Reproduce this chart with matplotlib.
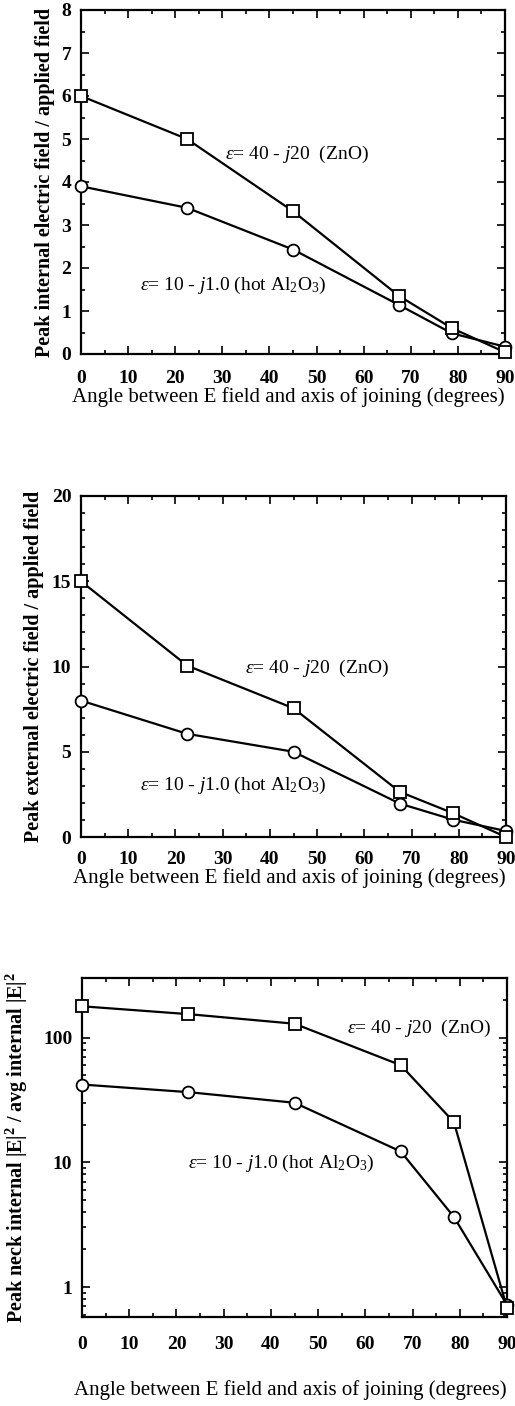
import matplotlib
matplotlib.use("Agg")
import matplotlib.pyplot as plt
from matplotlib.ticker import MultipleLocator, LogLocator, NullFormatter

plt.rcParams['font.family'] = ['Liberation Serif', 'DejaVu Serif']
plt.rcParams['mathtext.fontset'] = 'custom'
plt.rcParams['mathtext.rm'] = 'Liberation Serif'
plt.rcParams['mathtext.it'] = 'Liberation Serif:italic'
plt.rcParams['mathtext.bf'] = 'Liberation Serif:bold'

# ---- data ----
angles = [0, 22.5, 45, 67.5, 78.75, 90]

int_zno = [6.0, 5.0, 3.32, 1.35, 0.6, 0.04]
int_al2o3 = [3.9, 3.4, 2.43, 1.14, 0.48, 0.17]

ext_zno = [15.0, 10.05, 7.55, 2.65, 1.4, 0.0]
ext_al2o3 = [8.0, 6.05, 5.0, 1.96, 1.02, 0.35]

neck_zno = [178, 154, 129, 60, 21, 0.68]
neck_al2o3 = [42, 36.5, 30, 12.2, 3.65, 0.72]

xticks = [0, 10, 20, 30, 40, 50, 60, 70, 80, 90]
label_zno = r"$\mathit{\varepsilon}$= 40 - $\mathit{j}$20  (ZnO)"
label_al = r"$\mathit{\varepsilon}$= 10 - $\mathit{j}$1.0 (hot Al$_2$O$_3$)"
xlabel = "Angle between E field and axis of joining (degrees)"
ylabels = ["Peak internal electric field / applied field",
           "Peak external electric field / applied field",
           r"Peak neck internal |E|$^\mathbf{2}$ / avg internal |E|$^\mathbf{2}$"]

W, H = 515, 1406
fig = plt.figure(figsize=(W / 100, H / 100), dpi=100)

def ax_at(left, top, right, bottom):
    return fig.add_axes([left / W, 1 - bottom / H, (right - left) / W, (bottom - top) / H])

ax1 = ax_at(81, 10, 505, 354)
ax2 = ax_at(81, 496, 506, 837)
ax3 = ax_at(82, 978, 507, 1317)

TICKFS = 14
XLABFS = 15
YLABFS = 14.5
ANNFS = 14

def style(ax, xpad=11.5):
    for s in ax.spines.values():
        s.set_linewidth(1.6)
    ax.tick_params(which='both', direction='in', top=True, right=True,
                   labelsize=TICKFS, width=1.2)
    ax.tick_params(which='major', length=6)
    ax.tick_params(which='minor', length=3)
    ax.tick_params(axis='y', which='major', pad=7)
    ax.tick_params(axis='x', which='major', pad=xpad)
    ax.set_xlim(0, 90)
    ax.set_xticks(xticks)
    ax.xaxis.set_minor_locator(MultipleLocator(5))
    for lab in ax.get_xticklabels() + ax.get_yticklabels():
        lab.set_fontweight('bold')

def plot_series(ax, y_al, y_zno):
    ax.plot(angles, y_al, color='black', lw=1.6, marker='o', ms=8.5,
            mfc='white', mec='black', mew=1.3, clip_on=False, zorder=3)
    ax.plot(angles, y_zno, color='black', lw=1.6, marker='s', ms=8.5,
            mfc='white', mec='black', mew=1.3, clip_on=False, zorder=4)

# Panel 1
plot_series(ax1, int_al2o3, int_zno)
ax1.set_ylim(0, 8)
ax1.set_yticks(range(0, 9))
ax1.yaxis.set_minor_locator(MultipleLocator(0.5))
style(ax1)
ax1.text(30.6, 4.63, label_zno, fontsize=ANNFS, va='center', ha='left')
ax1.text(12.5, 1.6, label_al, fontsize=ANNFS, va='center', ha='left')
ax1.set_ylabel(ylabels[0], fontsize=YLABFS, fontweight='bold')
ax1.yaxis.set_label_coords(-0.061, 0.5)
ax1.set_xlabel(xlabel, fontsize=XLABFS)
ax1.xaxis.set_label_coords(0.49, -0.096)

# Panel 2
plot_series(ax2, ext_al2o3, ext_zno)
ax2.set_ylim(0, 20)
ax2.set_yticks([0, 5, 10, 15, 20])
ax2.yaxis.set_minor_locator(MultipleLocator(1))
style(ax2, xpad=10)
ax2.text(34.8, 9.9, label_zno, fontsize=ANNFS, va='center', ha='left')
ax2.text(12.5, 3.05, label_al, fontsize=ANNFS, va='center', ha='left')
ax2.set_ylabel(ylabels[1], fontsize=YLABFS, fontweight='bold')
ax2.yaxis.set_label_coords(-0.087, 0.5)
ax2.set_xlabel(xlabel, fontsize=XLABFS)
ax2.xaxis.set_label_coords(0.49, -0.091)

# Panel 3
plot_series(ax3, neck_al2o3, neck_zno)
ax3.set_yscale('log')
ax3.set_ylim(0.575, 300)
ax3.set_yticks([1, 10, 100])
ax3.set_yticklabels(['1', '10', '100'])
ax3.yaxis.set_minor_locator(LogLocator(base=10, subs=range(2, 10)))
ax3.yaxis.set_minor_formatter(NullFormatter())
style(ax3, xpad=13.5)
ax3.text(56.1, 119, label_zno, fontsize=ANNFS, va='center', ha='left')
ax3.text(22.4, 9.8, label_al, fontsize=ANNFS, va='center', ha='left')
ax3.set_ylabel(ylabels[2], fontsize=YLABFS, fontweight='bold')
ax3.yaxis.set_label_coords(-0.122, 0.5)
ax3.set_xlabel(xlabel, fontsize=XLABFS)
ax3.xaxis.set_label_coords(0.49, -0.186)

fig.savefig("out.png", dpi=100)
